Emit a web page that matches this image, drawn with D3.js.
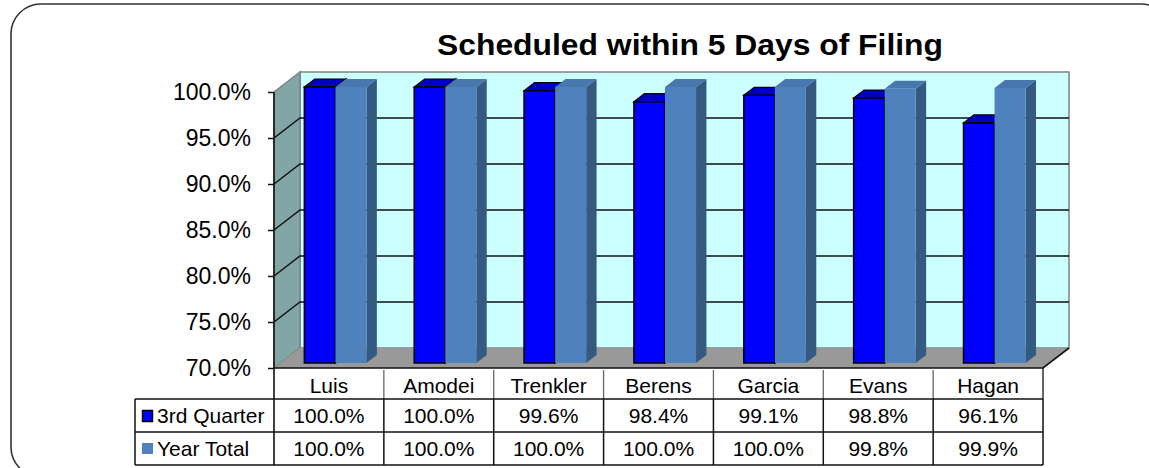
<!DOCTYPE html>
<html><head><meta charset="utf-8">
<script src="https://cdn.jsdelivr.net/npm/d3@7/dist/d3.min.js"></script>
<style>body{margin:0;background:#fff;}svg{display:block;}text{font-family:"Liberation Sans",Arial,sans-serif;}</style>
</head><body>
<svg id="c" width="1149" height="468"></svg>
<script>
const title = "Scheduled within 5 Days of Filing";
const categories = ["Luis","Amodei","Trenkler","Berens","Garcia","Evans","Hagan"];
const seriesNames = ["3rd Quarter","Year Total"];
const q3Values = [1.000,1.000,0.996,0.984,0.991,0.988,0.961];
const yearValues = [1.000,1.000,1.000,1.000,1.000,0.998,0.999];
const yTicks = [0.70,0.75,0.80,0.85,0.90,0.95,1.00];

const svg = d3.select("#c");
const DX = 26, DY = -20;           // full depth offset
const x0 = d3.scaleBand().domain(categories).range([274, 1043]).paddingInner(0).paddingOuter(0);
const x1 = d3.scaleBand().domain(seriesNames).range([0, x0.bandwidth()]).paddingInner(0).paddingOuter(0.77);
const y = d3.scaleLinear().domain([0.70, 1.00]).range([368, 92]);
const fmt = d3.format(".1%");
const L = 274, R = 1043, yB = y(0.70), yT = y(1.00);

// outer rounded frame
svg.append("rect").attr("x",11).attr("y",4).attr("width",1160).attr("height",473)
  .attr("rx",30).attr("fill","none").attr("stroke","#333").attr("stroke-width",1.6);

// title
svg.append("text").attr("x",690).attr("y",55).attr("text-anchor","middle")
  .attr("font-size",29.5).attr("font-weight","bold")
  .attr("textLength",506).attr("lengthAdjust","spacingAndGlyphs").text(title);

const pt = (px,py,z) => [px + DX*z, py + DY*z];
const poly = pts => "M" + pts.map(p=>p.join(",")).join("L") + "Z";

// back wall
svg.append("path").attr("d", poly([pt(L,yT,1),pt(R,yT,1),pt(R,yB,1),pt(L,yB,1)]))
  .attr("fill","#CCFFFF").attr("stroke","#808080").attr("stroke-width",1.5);
// left wall
svg.append("path").attr("d", poly([pt(L,yT,0),pt(L,yT,1),pt(L,yB,1),pt(L,yB,0)]))
  .attr("fill","#82A6A6").attr("stroke","#808080").attr("stroke-width",1.5);
// floor
svg.append("path").attr("d", poly([pt(L,yB,0),pt(L,yB,1),pt(R,yB,1),pt(R,yB,0)]))
  .attr("fill","#999999").attr("stroke","none");
svg.append("path").attr("d", "M"+pt(L,yB,0)+"L"+pt(R,yB,0)+"L"+pt(R,yB,1))
  .attr("fill","none").attr("stroke","#111").attr("stroke-width",1.6);

// gridlines
yTicks.filter(t=>t>0.70 && t<1.00).forEach(t=>{
  const yy = y(t);
  svg.append("path").attr("d","M"+pt(L,yy,0)+"L"+pt(L,yy,1)+"L"+pt(R,yy,1))
    .attr("fill","none").attr("stroke","#111").attr("stroke-width",1.5);
});

// bars
const zF = 0.25, zB = 0.65;
const seriesData = [
  {name:seriesNames[0], values:q3Values, front:"#0000FF", top:"#0000C4", side:"#00009A", stroke:"#000"},
  {name:seriesNames[1], values:yearValues, front:"#4F81BD", top:"#4877AE", side:"#345A82", stroke:"none"}
];
categories.forEach((c,i)=>{
  seriesData.forEach(s=>{
    const xa = x0(c) + x1(s.name), xb = xa + x1.bandwidth();
    const yv = y(s.values[i]);
    const g = svg.append("g");
    g.append("path").attr("d", poly([pt(xb,yv,zF),pt(xb,yv,zB),pt(xb,yB,zB),pt(xb,yB,zF)]))
      .attr("fill",s.side).attr("stroke",s.stroke).attr("stroke-width",1.2);
    g.append("path").attr("d", poly([pt(xa,yv,zF),pt(xa,yv,zB),pt(xb,yv,zB),pt(xb,yv,zF)]))
      .attr("fill",s.top).attr("stroke",s.stroke).attr("stroke-width",1.2);
    g.append("path").attr("d", poly([pt(xa,yv,zF),pt(xb,yv,zF),pt(xb,yB,zF),pt(xa,yB,zF)]))
      .attr("fill",s.front).attr("stroke",s.stroke).attr("stroke-width",1.6);
  });
});

// y axis
const yAxis = d3.axisLeft(y).tickValues(yTicks).tickFormat(fmt).tickSize(6).tickPadding(17);
const ga = svg.append("g").attr("transform",`translate(${L},0)`).call(yAxis);
ga.select(".domain").remove();
ga.selectAll(".tick line").attr("stroke","#111").attr("stroke-width",1.5);
ga.selectAll(".tick text").attr("font-size",23).attr("fill","#000")
  .attr("font-family","'Liberation Sans',Arial,sans-serif");
svg.append("line").attr("x1",L).attr("x2",L).attr("y1",yT).attr("y2",465)
  .attr("stroke","#111").attr("stroke-width",1.6);

// data table
const rowBot = 465, tableLeft = 135;
const tb = svg.append("g");
categories.forEach((c,i)=>{
  const xr = x0(c) + x0.bandwidth();
  tb.append("line").attr("x1",xr).attr("x2",xr).attr("y1", i===categories.length-1 ? 368 : 370).attr("y2",399)
    .attr("stroke", i===categories.length-1 ? "#111" : "#666").attr("stroke-width",1.3);
  tb.append("line").attr("x1",xr).attr("x2",xr).attr("y1",399).attr("y2",rowBot)
    .attr("stroke","#111").attr("stroke-width",1.5);
  const cx = x0(c) + x0.bandwidth()/2;
  tb.append("text").attr("x",cx).attr("y",393).attr("text-anchor","middle").attr("font-size",21).text(c);
  tb.append("text").attr("x",cx).attr("y",423).attr("text-anchor","middle").attr("font-size",21).text(fmt(q3Values[i]));
  tb.append("text").attr("x",cx).attr("y",456).attr("text-anchor","middle").attr("font-size",21).text(fmt(yearValues[i]));
});
[399,432,465].forEach(yy=>{
  tb.append("line").attr("x1",tableLeft).attr("x2",R).attr("y1",yy).attr("y2",yy)
    .attr("stroke","#111").attr("stroke-width",1.5);
});
tb.append("line").attr("x1",tableLeft).attr("x2",tableLeft).attr("y1",399).attr("y2",rowBot)
  .attr("stroke","#111").attr("stroke-width",1.5);
tb.append("rect").attr("x",142.5).attr("y",410.5).attr("width",10).attr("height",11)
  .attr("fill",seriesData[0].front).attr("stroke","#000").attr("stroke-width",1.5);
tb.append("text").attr("x",157).attr("y",423).attr("font-size",21).text(seriesNames[0]);
tb.append("rect").attr("x",142).attr("y",443).attr("width",11).attr("height",11)
  .attr("fill",seriesData[1].front);
tb.append("text").attr("x",157).attr("y",456).attr("font-size",21).text(seriesNames[1]);
</script>
</body></html>
